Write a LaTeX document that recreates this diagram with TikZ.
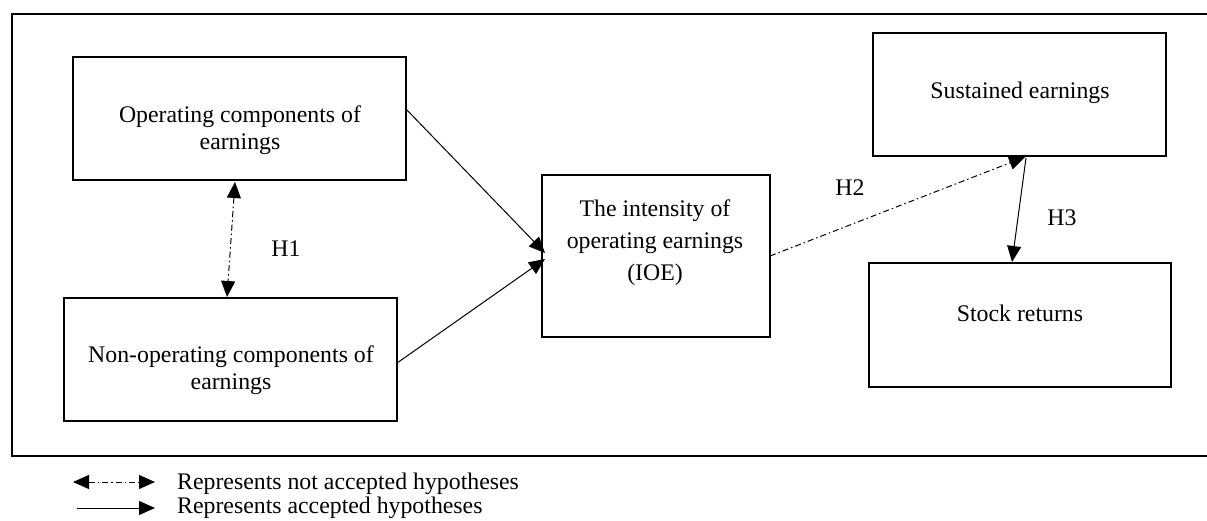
\documentclass[tikz,border=0pt]{standalone}
\usepackage{fontspec}
\setmainfont{Liberation Serif}
\usetikzlibrary{arrows.meta}
\tikzset{
  box/.style={draw=black, line width=2.8pt, rectangle, inner sep=0pt},
  txt/.style={align=center, inner sep=0pt, font=\fontsize{23.8}{27}\selectfont},
  txtwide/.style={align=center, inner sep=0pt, font=\fontsize{23.8}{32}\selectfont},
  lbl/.style={inner sep=0pt, font=\fontsize{23.8}{27}\selectfont},
  tip/.style={-{Triangle[length=16pt,width=14pt]}},
  dtip/.style={{Triangle[length=16pt,width=14pt]}-{Triangle[length=16pt,width=14pt]}},
  dashdotline/.style={line width=1pt, dash pattern=on 6pt off 3pt on 1.5pt off 3pt},
  solidline/.style={line width=1pt},
  frame/.style={line width=2pt}
}
\begin{document}
\begin{tikzpicture}[x=1pt,y=-1pt]
\useasboundingbox (0,0) rectangle (1207,520);
% outer frame (right side runs off the picture)
\draw[frame] (1207,14) -- (12,14) -- (12,456) -- (1207,456);
% boxes
\node[box, minimum width=333pt, minimum height=123pt] (A) at (239.5,118.5) {};
\node[box, minimum width=333pt, minimum height=123pt] (B) at (230.5,359.5) {};
\node[box, minimum width=228pt, minimum height=162pt] (C) at (656,256) {};
\node[box, minimum width=293pt, minimum height=123pt] (D) at (1019.5,94.5) {};
\node[box, minimum width=302pt, minimum height=124pt] (E) at (1020,325) {};
% texts
\node[txt] (At) at (240,130) {Operating components of\\earnings};
\node[txt] (Bt) at (231,370) {Non-operating components of\\earnings};
\node[txtwide] (Ct) at (655,243) {The intensity of\\operating earnings\\(IOE)};
\node[txt] (Dt) at (1020,93) {Sustained earnings};
\node[txt] (Et) at (1020,313) {Stock returns};
% connector end points
\coordinate (a1) at (235,182);
\coordinate (b1) at (227,297);
\coordinate (a2) at (405,108);
\coordinate (c1) at (545,253);
\coordinate (b2) at (397,363);
\coordinate (c2) at (545,259);
\coordinate (c3) at (770,256);
\coordinate (d1) at (1025,157);
\coordinate (d2) at (1026,158);
\coordinate (e1) at (1012,262);
% connectors
\draw[dashdotline, dtip] (a1) -- (b1);
\draw[solidline, tip] (a2) -- (c1);
\draw[solidline, tip] (b2) -- (c2);
\draw[dashdotline, tip] (c3) -- (d1);
\draw[solidline, tip] (d2) -- (e1);
% hypothesis labels
\node[lbl] (H1) at (286,249) {H1};
\node[lbl] (H2) at (850,188) {H2};
\node[lbl] (H3) at (1062,218) {H3};
% legend
\coordinate (l1a) at (73,482);
\coordinate (l1b) at (155,482);
\coordinate (l2a) at (77,508);
\coordinate (l2b) at (155,508);
\draw[dashdotline, dtip] (l1a) -- (l1b);
\draw[solidline, tip] (l2a) -- (l2b);
\node[lbl, anchor=west] (L1) at (177,484) {Represents not accepted hypotheses};
\node[lbl, anchor=west] (L2) at (177,508) {Represents accepted hypotheses};
\end{tikzpicture}
\end{document}
